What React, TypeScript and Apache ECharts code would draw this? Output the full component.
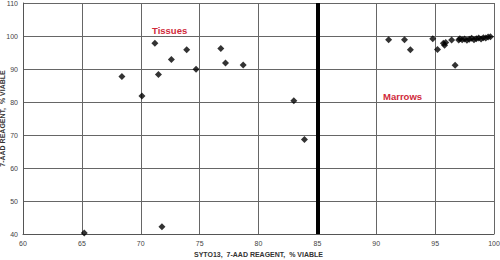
import React, { useEffect, useRef } from "react";
import * as echarts from "echarts";

const xTicks = [60, 65, 70, 75, 80, 85, 90, 95, 100];
const yTicks = [40, 50, 60, 70, 80, 90, 100, 110];

const tissueX = [65.2, 68.4, 70.1, 71.2, 71.5, 71.8, 72.6, 73.9, 74.7, 76.8, 77.2, 78.7, 83.0, 83.9];
const tissueY = [40.3, 87.7, 81.8, 97.8, 88.3, 42.2, 92.9, 95.8, 89.9, 96.2, 91.8, 91.2, 80.4, 68.6];

const marrowX = [91.05, 92.4, 92.9, 94.8, 95.2, 95.7, 95.8, 95.9, 96.4, 96.7, 97.0, 97.1, 97.3, 97.5, 97.7, 97.9, 98.1, 98.3, 98.5, 98.7, 98.9, 99.1, 99.3, 99.5, 99.7];
const marrowY = [98.9, 98.9, 95.8, 99.2, 95.9, 97.8, 97.2, 98.0, 98.8, 91.1, 98.8, 99.2, 98.9, 99.1, 98.7, 99.0, 99.3, 98.9, 99.2, 99.4, 99.1, 99.5, 99.4, 99.7, 99.8];

const cutoff = 85;

export default function App() {
  const ref = useRef<HTMLDivElement>(null);
  useEffect(() => {
    if (!ref.current) return;
    const chart = echarts.init(ref.current, null, { renderer: "svg" });
    const pts = (xs: number[], ys: number[]) => xs.map((x, i) => [x, ys[i]]);
    const font = "'Liberation Sans', Arial, sans-serif";
    chart.setOption({
      animation: false,
      backgroundColor: "#ffffff",
      grid: { left: 23, right: 6, top: 3, bottom: 26, containLabel: false, outerBoundsMode: "none" },
      xAxis: {
        type: "value",
        min: 60,
        max: 100,
        interval: 5,
        name: "SYTO13,  7-AAD REAGENT,  % VIABLE",
        nameLocation: "middle",
        nameGap: 17,
        nameMoveOverlap: false,
        nameTextStyle: { fontFamily: font, fontSize: 7, fontWeight: "bold", color: "#333" },
        axisLine: { show: true, lineStyle: { color: "#555", width: 1 } },
        axisTick: { show: false },
        axisLabel: { fontFamily: font, fontSize: 7, color: "#444", margin: 6 },
        splitLine: { show: true, lineStyle: { color: "#666", width: 1 } },
      },
      yAxis: {
        type: "value",
        min: 40,
        max: 110,
        interval: 10,
        name: "7-AAD REAGENT,  % VIABLE",
        nameLocation: "middle",
        nameGap: 17,
        nameMoveOverlap: false,
        nameTextStyle: { fontFamily: font, fontSize: 7, fontWeight: "bold", color: "#333" },
        axisLine: { show: true, lineStyle: { color: "#555", width: 1 } },
        axisTick: { show: false },
        axisLabel: { fontFamily: font, fontSize: 7, color: "#444", margin: 5 },
        splitLine: { show: true, lineStyle: { color: "#666", width: 1 } },
      },
      series: [
        {
          type: "scatter",
          name: "Tissues",
          symbol: "diamond",
          symbolSize: 7,
          itemStyle: { color: "#000" },
          data: pts(tissueX, tissueY),
          markLine: {
            silent: true,
            symbol: "none",
            label: { show: false },
            lineStyle: { color: "#000", width: 4, type: "solid" },
            data: [{ xAxis: cutoff }],
          },
        },
        {
          type: "scatter",
          name: "Marrows",
          symbol: "diamond",
          symbolSize: 7,
          itemStyle: { color: "#000" },
          data: pts(marrowX, marrowY),
        },
      ],
      graphic: [
        {
          type: "text",
          left: 152,
          top: 25,
          style: { text: "Tissues", fontFamily: font, fontSize: 9.5, fontWeight: "bold", fill: "#d02a3a" },
        },
        {
          type: "text",
          left: 383,
          top: 91,
          style: { text: "Marrows", fontFamily: font, fontSize: 9.5, fontWeight: "bold", fill: "#d02a3a" },
        },
      ],
    });
    return () => chart.dispose();
  }, []);
  return <div ref={ref} style={{ width: 500, height: 260, position: "absolute", left: 0, top: 0 }} />;
}
